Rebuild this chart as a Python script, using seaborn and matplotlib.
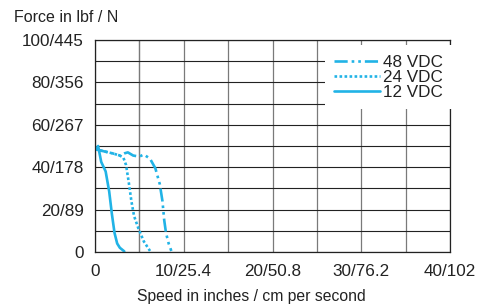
import pandas as pd
import matplotlib
matplotlib.use("Agg")
import matplotlib.pyplot as plt
import seaborn as sns
from matplotlib.ticker import MultipleLocator

# curve data (speed in inches/s, force in lbf)
speed_48 = [0, 1.0, 2.0, 2.8, 3.3, 3.7, 4.3, 5.0, 5.5, 6.2, 6.8, 7.3, 7.6, 7.8, 8.0, 8.3, 8.6]
force_48 = [48.5, 47.5, 46.5, 45.5, 46.5, 47.0, 45.5, 45.0, 46.0, 44.0, 39.5, 32.0, 24.0, 15.0, 9.0, 4.0, 0.5]
speed_24 = [0, 1.0, 2.0, 2.8, 3.2, 3.5, 3.8, 4.1, 4.4, 4.9, 5.5, 6.2]
force_24 = [48.5, 47.5, 46.5, 45.5, 44.5, 41.0, 33.0, 24.0, 17.0, 11.0, 5.0, 0.5]
speed_12 = [0, 0.35, 0.7, 1.2, 1.6, 1.9, 2.2, 2.5, 2.8, 3.3]
force_12 = [48.0, 50.0, 42.5, 38.0, 28.5, 18.0, 9.0, 4.0, 2.0, 0.3]

x_ticks = [0, 10, 20, 30, 40]
x_labels = ["0", "10/25.4", "20/50.8", "30/76.2", "40/102"]
y_ticks = [0, 20, 40, 60, 80, 100]
y_labels = ["0", "20/89", "40/178", "60/267", "80/356", "100/445"]

sns.set_style("white")
plt.rcParams['font.family'] = ['Liberation Sans', 'DejaVu Sans']

blue = '#21b3e6'
txt = '#222222'

fig = plt.figure(figsize=(4.83, 3.08), dpi=100)
ax = fig.add_axes([95 / 483, 56 / 308, 355 / 483, 212 / 308])

sns.lineplot(x=speed_48, y=force_48, ax=ax, sort=False, estimator=None, color=blue, lw=1.9, label='48 VDC')
ax.lines[-1].set_dashes([5, 1.5, 1, 1.5, 1, 1.5])
sns.lineplot(x=speed_24, y=force_24, ax=ax, sort=False, estimator=None, color=blue, lw=1.9, label='24 VDC')
ax.lines[-1].set_dashes([1, 0.9])
sns.lineplot(x=speed_12, y=force_12, ax=ax, sort=False, estimator=None, color=blue, lw=1.9, label='12 VDC')

ax.set_xlim(0, 40)
ax.set_ylim(0, 100)
ax.set_xticks(x_ticks)
ax.set_xticklabels(x_labels)
ax.set_yticks(y_ticks)
ax.set_yticklabels(y_labels)
ax.xaxis.set_minor_locator(MultipleLocator(5))
ax.yaxis.set_minor_locator(MultipleLocator(10))
ax.tick_params(axis='both', which='both', length=0, labelsize=12.3, labelcolor=txt)
ax.tick_params(axis='x', pad=9)
ax.tick_params(axis='y', pad=8)
ax.grid(axis='x', which='both', color='#7a7a7a', lw=0.9)
ax.grid(axis='y', which='both', color='#222222', lw=0.8)
ax.axvline(5, color='#222222', lw=0.8, zorder=0.5)
ax.set_axisbelow(True)
for s in ax.spines.values():
    s.set_color('#222222')
    s.set_linewidth(0.9)
ax.set_xlabel('')
ax.set_ylabel('')

leg = ax.legend(loc='upper right', bbox_to_anchor=(1.008, 0.975), frameon=True, fancybox=False,
                fontsize=12.3, handlelength=2.7, handletextpad=0.2, labelspacing=0.0,
                borderpad=0.55, borderaxespad=0)
leg.get_frame().set_facecolor('white')
leg.get_frame().set_edgecolor('none')
leg.get_frame().set_alpha(1)
for t in leg.get_texts():
    t.set_color(txt)

fig.text(14 / 483, 1 - 17 / 308, 'Force in lbf / N', fontsize=11.5, color=txt, va='center', ha='left')
fig.text(251 / 483, 1 - 296 / 308, 'Speed in inches / cm per second', fontsize=11.3, color=txt, va='center', ha='center')

fig.savefig('out.png', dpi=100)
